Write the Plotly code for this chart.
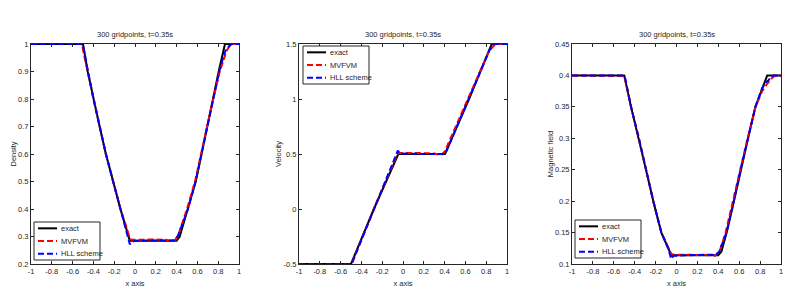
import plotly.graph_objects as go

# ---------------- data ----------------
title_text = "300 gridpoints, t=0.35s"
series_names = ["exact", "MVFVM", "HLL scheme"]

x_ticks = [-1, -0.8, -0.6, -0.4, -0.2, 0, 0.2, 0.4, 0.6, 0.8, 1]
x_ticklabels = ["-1", "-0.8", "-0.6", "-0.4", "-0.2", "0", "0.2", "0.4", "0.6", "0.8", "1"]

rho_ticks = [0.2, 0.3, 0.4, 0.5, 0.6, 0.7, 0.8, 0.9, 1.0]
rho_ticklabels = ["0.2", "0.3", "0.4", "0.5", "0.6", "0.7", "0.8", "0.9", "1"]
u_ticks = [-0.5, 0, 0.5, 1, 1.5]
u_ticklabels = ["-0.5", "0", "0.5", "1", "1.5"]
b_ticks = [0.1, 0.15, 0.2, 0.25, 0.3, 0.35, 0.4, 0.45]
b_ticklabels = ["0.1", "0.15", "0.2", "0.25", "0.3", "0.35", "0.4", "0.45"]

# Density
rho_exact_x = [-1, -0.5, -0.455, -0.4, -0.34, -0.28, -0.21, -0.14, -0.05,
               0.4, 0.43, 0.51, 0.584, 0.64, 0.694, 0.75, 0.805, 0.865, 1]
rho_exact = [1, 1, 0.9, 0.8, 0.7, 0.6, 0.5, 0.4, 0.285,
             0.285, 0.3, 0.4, 0.5, 0.6, 0.7, 0.8, 0.9, 1, 1]
rho_mv_x = [-1, -0.56, -0.53, -0.51, -0.49, -0.455, -0.4, -0.34, -0.28, -0.21, -0.14,
            -0.07, -0.05, -0.03, 0.1, 0.2, 0.3, 0.35, 0.37, 0.39, 0.42,
            0.5, 0.577, 0.635, 0.692, 0.752, 0.815, 0.85, 0.88, 0.91, 0.94, 1]
rho_mv = [1, 1, 1.003, 0.998, 0.96, 0.9, 0.8, 0.7, 0.6, 0.5, 0.4,
          0.32, 0.29, 0.288, 0.29, 0.289, 0.288, 0.284, 0.28, 0.29, 0.31,
          0.4, 0.5, 0.6, 0.7, 0.8, 0.9, 0.945, 0.975, 0.993, 1, 1]
rho_hll_x = [-1, -0.52, -0.5, -0.48, -0.455, -0.4, -0.34, -0.28, -0.21, -0.14,
             -0.08, -0.05, -0.03, 0.0, 0.1, 0.2, 0.3, 0.38, 0.41, 0.44,
             0.51, 0.582, 0.638, 0.693, 0.75, 0.81, 0.855, 0.875, 0.9, 0.93, 1]
rho_hll = [1, 1, 0.995, 0.955, 0.9, 0.8, 0.7, 0.6, 0.5, 0.4,
           0.315, 0.272, 0.28, 0.284, 0.285, 0.285, 0.285, 0.286, 0.3, 0.33,
           0.4, 0.5, 0.6, 0.7, 0.8, 0.9, 0.96, 0.98, 0.99, 1, 1]

# Velocity
u_exact_x = [-1, -0.5, -0.28, -0.045, 0.404, 0.635, 0.853, 1]
u_exact = [-0.5, -0.5, 0.0, 0.5, 0.5, 1.0, 1.5, 1.5]
u_mv_x = [-1, -0.51, -0.49, -0.28, -0.06, -0.04, 0.1, 0.2, 0.3, 0.35, 0.37, 0.4,
          0.625, 0.82, 0.85, 0.875, 0.9, 1]
u_mv = [-0.5, -0.5, -0.49, 0.0, 0.49, 0.51, 0.51, 0.51, 0.505, 0.495, 0.49, 0.52,
        1.0, 1.42, 1.46, 1.485, 1.5, 1.5]
u_hll_x = [-1, -0.51, -0.49, -0.28, -0.06, -0.05, -0.03, 0.1, 0.2, 0.3, 0.38, 0.41,
           0.632, 0.83, 0.855, 0.88, 1]
u_hll = [-0.5, -0.5, -0.49, 0.0, 0.5, 0.53, 0.505, 0.5, 0.5, 0.5, 0.5, 0.51,
         1.0, 1.44, 1.475, 1.5, 1.5]

# Magnetic field
b_exact_x = [-1, -0.5, -0.435, -0.36, -0.292, -0.222, -0.145, -0.05,
             0.4, 0.43, 0.48, 0.55, 0.615, 0.685, 0.755, 0.81, 0.868, 1]
b_exact = [0.4, 0.4, 0.35, 0.3, 0.25, 0.2, 0.15, 0.114,
           0.114, 0.12, 0.15, 0.2, 0.25, 0.3, 0.35, 0.375, 0.4, 0.4]
b_mv_x = [-1, -0.52, -0.5, -0.48, -0.435, -0.36, -0.292, -0.222, -0.145,
          -0.07, -0.05, -0.03, 0.1, 0.2, 0.3, 0.35, 0.37, 0.39, 0.42,
          0.47, 0.54, 0.607, 0.68, 0.757, 0.82, 0.86, 0.89, 0.92, 0.95, 1]
b_mv = [0.4, 0.4, 0.399, 0.385, 0.35, 0.3, 0.25, 0.2, 0.15,
        0.122, 0.116, 0.115, 0.115, 0.115, 0.115, 0.114, 0.113, 0.116, 0.124,
        0.15, 0.2, 0.25, 0.3, 0.35, 0.375, 0.385, 0.392, 0.397, 0.4, 0.4]
b_hll_x = [-1, -0.51, -0.49, -0.47, -0.435, -0.36, -0.292, -0.222, -0.145,
           -0.08, -0.05, -0.03, 0.1, 0.2, 0.3, 0.38, 0.41, 0.44,
           0.478, 0.548, 0.612, 0.684, 0.755, 0.82, 0.86, 0.88, 0.9, 0.93, 1]
b_hll = [0.4, 0.4, 0.395, 0.38, 0.35, 0.3, 0.25, 0.2, 0.15,
         0.125, 0.108, 0.113, 0.114, 0.114, 0.114, 0.115, 0.12, 0.132,
         0.15, 0.2, 0.25, 0.3, 0.35, 0.38, 0.39, 0.392, 0.397, 0.4, 0.4]

# ---------------- figure ----------------
FONT = "Liberation Sans, Arial, sans-serif"
FS = 7.5
TXT = "#262626"
colors = ["#000000", "#ff0000", "#0000ff"]
dashes = ["solid", "6px,3px", "6px,3px"]

panels = [
    (rho_exact_x, rho_exact, rho_mv_x, rho_mv, rho_hll_x, rho_hll),
    (u_exact_x, u_exact, u_mv_x, u_mv, u_hll_x, u_hll),
    (b_exact_x, b_exact, b_mv_x, b_mv, b_hll_x, b_hll),
]

fig = go.Figure()
for i, p in enumerate(panels):
    xs = [p[0], p[2], p[4]]
    ys = [p[1], p[3], p[5]]
    for k in range(3):
        fig.add_trace(go.Scatter(
            x=xs[k], y=ys[k], mode="lines", name=series_names[k],
            line=dict(color=colors[k], width=2, dash=dashes[k]),
            xaxis="x" if i == 0 else f"x{i+1}",
            yaxis="y" if i == 0 else f"y{i+1}",
            showlegend=False,
        ))

# page body has an 8px margin: figure is 802x285 so that it fills the 810x293 window
OFF = 8
W, H = 802, 285
ml, mr, mt, mb = 31 - OFF, 29, 44 - OFF, 29
pw = W - ml - mr
ph = H - mt - mb


def px_x(px):  # screen pixel -> paper x
    return (px - OFF - ml) / pw


def px_y(py):  # screen pixel -> paper y
    return (H - mb - (py - OFF)) / ph


x_domains = [[px_x(31), px_x(239)], [px_x(299), px_x(507)], [px_x(572), px_x(781)]]
y_ranges = [[0.2, 1.0], [-0.5, 1.5], [0.1, 0.45]]
y_tickv = [rho_ticks, u_ticks, b_ticks]
y_tickt = [rho_ticklabels, u_ticklabels, b_ticklabels]
y_titles = ["Density", "Velocity", "Magnetic field"]
y_standoff = [0, 0, 0]

axis_common = dict(
    showline=True, linecolor=TXT, linewidth=1, mirror="ticks",
    ticks="inside", ticklen=3, tickcolor=TXT, tickwidth=1,
    showgrid=False, zeroline=False, automargin=False,
    tickfont=dict(family=FONT, size=FS, color=TXT),
)

layout = dict(
    template="none",
    width=W, height=H,
    margin=dict(l=ml, r=mr, t=mt, b=mb, pad=0, autoexpand=False),
    paper_bgcolor="white", plot_bgcolor="white",
    font=dict(family=FONT, size=FS, color=TXT),
    showlegend=False,
    annotations=[], shapes=[],
)
for i in range(3):
    xk = "xaxis" if i == 0 else f"xaxis{i+1}"
    yk = "yaxis" if i == 0 else f"yaxis{i+1}"
    xa = "x" if i == 0 else f"x{i+1}"
    ya = "y" if i == 0 else f"y{i+1}"
    layout[xk] = dict(axis_common, domain=x_domains[i], range=[-1, 1],
                      tickvals=x_ticks, ticktext=x_ticklabels, anchor=ya,
                      title=dict(text="x axis", standoff=5,
                                 font=dict(family=FONT, size=FS, color=TXT)))
    layout[yk] = dict(axis_common, domain=[0, 1], range=y_ranges[i],
                      tickvals=y_tickv[i], ticktext=y_tickt[i], anchor=xa,
                      title=dict(text=y_titles[i], standoff=y_standoff[i],
                                 font=dict(family=FONT, size=FS, color=TXT)))
    cx = (x_domains[i][0] + x_domains[i][1]) / 2
    layout["annotations"].append(dict(
        text=title_text, x=cx, y=px_y(34), xref="paper", yref="paper",
        xanchor="center", yanchor="middle", showarrow=False,
        font=dict(family=FONT, size=FS, color=TXT)))

# legends (box, sample lines, labels) placed like the original's boxed legends
legend_boxes = [  # left, top, right, bottom (screen px)
    (34, 222, 100, 260),
    (303, 46, 369, 84),
    (575, 220, 641, 258),
]
for (l, t, r, b) in legend_boxes:
    layout["shapes"].append(dict(
        type="rect", xref="paper", yref="paper",
        x0=px_x(l), x1=px_x(r), y0=px_y(b), y1=px_y(t),
        line=dict(color=TXT, width=1), fillcolor="white", layer="above"))
    row_h = (b - t) / 3.0
    for k in range(3):
        yc = t + row_h * (k + 0.5)
        layout["shapes"].append(dict(
            type="line", xref="paper", yref="paper",
            x0=px_x(l + 4), x1=px_x(l + 23), y0=px_y(yc), y1=px_y(yc),
            line=dict(color=colors[k], width=2, dash=dashes[k]), layer="above"))
        layout["annotations"].append(dict(
            text=series_names[k], x=px_x(l + 25), y=px_y(yc),
            xref="paper", yref="paper", xanchor="left", yanchor="middle",
            showarrow=False, font=dict(family=FONT, size=FS, color=TXT)))

fig.update_layout(**layout)
fig.write_html("out.html")
